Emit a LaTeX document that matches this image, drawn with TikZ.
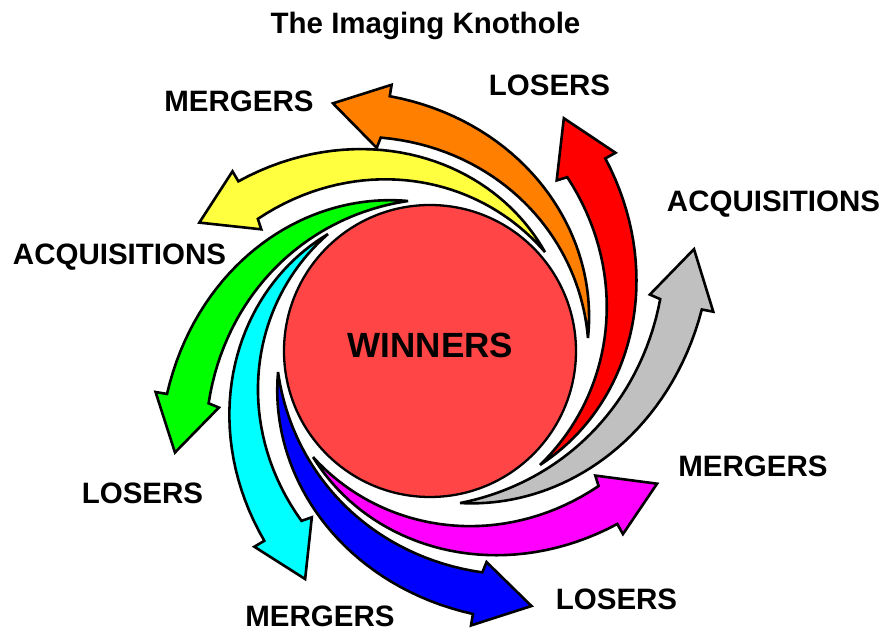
\documentclass[tikz,border=0pt]{standalone}
\usepackage{fontspec}
\setmainfont{Liberation Sans}
\definecolor{cOrange}{HTML}{FF8000}
\definecolor{cRed}{HTML}{FF0000}
\definecolor{cGray}{HTML}{C0C0C0}
\definecolor{cMagenta}{HTML}{FF00FF}
\definecolor{cBlue}{HTML}{0000FF}
\definecolor{cCyan}{HTML}{00FFFF}
\definecolor{cGreen}{HTML}{00FF00}
\definecolor{cYellow}{HTML}{FFFF40}
\definecolor{cWin}{HTML}{FF4545}
\tikzset{
  swirlarrow/.style={draw=black,line width=2.6bp,line join=miter,miter limit=4},
  lbl/.style={font=\fontsize{29.5bp}{30bp}\selectfont\bfseries,anchor=base,inner sep=0pt},
  winlbl/.style={font=\fontsize{35bp}{36bp}\selectfont\bfseries,anchor=base,inner sep=0pt},
  hub/.style={circle,draw=black,line width=2.3bp,fill=cWin,minimum size=292bp,inner sep=0pt}
}
% #1 tail angle, #2 tail radius, #3 tip angle, #4 tip radius, #5 colour
\newcommand\swirl[5]{%
  \pgfmathsetmacro\sTa{#1}\pgfmathsetmacro\sTr{#2}%
  \pgfmathsetmacro\sHa{#3}\pgfmathsetmacro\sHr{#4}%
  \pgfmathsetmacro\sOJa{\sHa-12.4}\pgfmathsetmacro\sOJr{\sHr-8}%
  \pgfmathsetmacro\sOBa{\sHa-13.2}\pgfmathsetmacro\sOBr{\sHr+3}%
  \pgfmathsetmacro\sIJa{\sHa-8.4}\pgfmathsetmacro\sIJr{\sHr-47}%
  \pgfmathsetmacro\sIBa{\sHa-6.7}\pgfmathsetmacro\sIBr{\sHr-56}%
  \filldraw[swirlarrow,fill=#5]
    plot[domain=0:1,samples=40,variable=\q]
      ({\sTa+(\sOJa-\sTa)*\q}:{\sTr+(\sOJr-\sTr)*(0.5*\q+0.5*\q*\q)})
    -- (\sOBa:\sOBr) -- (\sHa:\sHr) -- (\sIBa:\sIBr) -- (\sIJa:\sIJr)
    -- plot[domain=1:0,samples=40,variable=\q]
      ({\sTa+(\sIJa-\sTa)*\q}:{\sTr+(\sIJr-\sTr)*\q*\q})
    -- cycle;
}
\begin{document}
\begin{tikzpicture}[x=1bp,y=1bp]
\useasboundingbox (-430,-282) rectangle (454,351);
\node[hub] (hub) at (0,0) {};
\node[winlbl] (wtext) at (0.5,-6.5) {WINNERS};
% arrows
\swirl{4.7}{158.5}{111.4}{266}{cOrange}
\swirl{-46}{158.4}{60.1}{268.5}{cRed}
\swirl{-78.8}{155}{21.1}{283}{cGray}
\swirl{-137.8}{157.9}{-30.3}{263}{cMagenta}
\swirl{187.9}{153.4}{291.7}{274.5}{cBlue}
\swirl{131.1}{155.2}{241.3}{260}{cCyan}
\swirl{98.3}{151.6}{201.7}{274.5}{cGreen}
\swirl{40.7}{151.7}{150.9}{264}{cYellow}
% labels
\node[lbl] (title) at (-4.5,317.5) {The Imaging Knothole};
\node[lbl] (losA) at (119.5,255) {LOSERS};
\node[lbl] (merA) at (-191,239) {MERGERS};
\node[lbl] (acqA) at (343.5,139) {ACQUISITIONS};
\node[lbl] (acqB) at (-310.5,86) {ACQUISITIONS};
\node[lbl] (merB) at (323,-126) {MERGERS};
\node[lbl] (losB) at (-287.5,-153) {LOSERS};
\node[lbl] (losC) at (186.5,-259) {LOSERS};
\node[lbl] (merC) at (-110,-275.5) {MERGERS};
\end{tikzpicture}
\end{document}
